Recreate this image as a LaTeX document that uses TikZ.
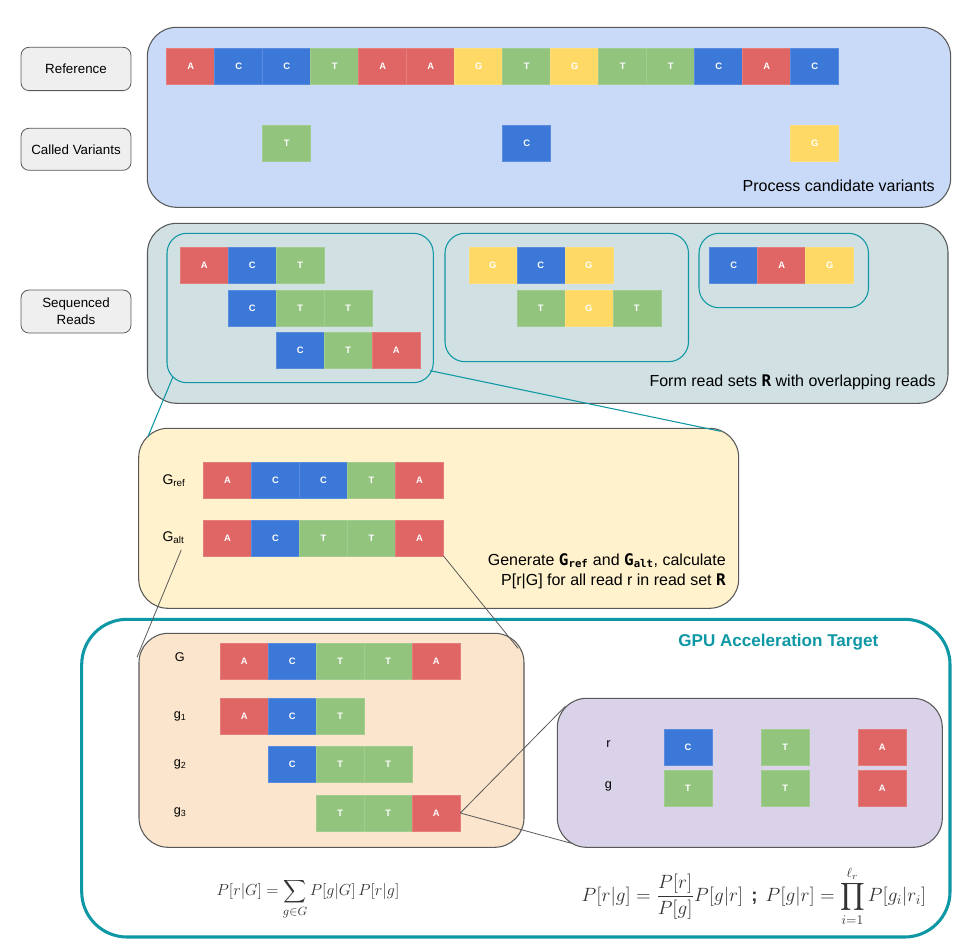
\documentclass[tikz,border=0pt]{standalone}
\usepackage{amsmath}
\usepackage{fontspec}
\setmainfont{Liberation Sans}
\newfontfamily\codefont{DejaVu Sans Mono}
\usetikzlibrary{calc}

% nucleotide colours
\definecolor{baseA}{HTML}{E06666}
\definecolor{baseC}{HTML}{3C78D8}
\definecolor{baseT}{HTML}{93C47D}
\definecolor{baseG}{HTML}{FFD966}
% panel colours
\definecolor{panelblue}{HTML}{C9DAF8}
\definecolor{panelcyan}{HTML}{D0E0E3}
\definecolor{panelyellow}{HTML}{FFF2CC}
\definecolor{panelorange}{HTML}{FCE5CD}
\definecolor{panelpurple}{HTML}{D9D2E9}
\definecolor{labelgrey}{HTML}{EFEFEF}
\definecolor{edgegrey}{HTML}{595959}
\definecolor{gputeal}{HTML}{0E97A4}

\newcommand\bmono[1]{{\codefont\bfseries #1}}

\tikzset{
  nuc/.style={draw=base#1!85!white, line width=0.4pt, fill=base#1,
    minimum width=36pt, minimum height=27pt, inner sep=0pt, outer sep=0pt,
    anchor=north west, text=white, font=\fontsize{7}{8}\selectfont\bfseries},
  panel/.style={draw=edgegrey, line width=0.8pt, rounded corners=22pt,
    inner sep=0pt, outer sep=0pt, anchor=north west},
  readset/.style={draw=gputeal, line width=0.8pt, rounded corners=15pt,
    inner sep=0pt, outer sep=0pt, anchor=north west},
  gpubox/.style={draw=gputeal, line width=2.3pt, rounded corners=34pt,
    inner sep=0pt, outer sep=0pt, anchor=north west},
  tag/.style={draw=edgegrey, fill=labelgrey, line width=0.6pt, rounded corners=6pt,
    inner sep=0pt, outer sep=0pt, anchor=north west, align=center,
    font=\fontsize{10}{12.5}\selectfont},
  caption/.style={anchor=east, inner sep=0pt, align=right, font=\fontsize{12}{15}\selectfont},
  rowlabel/.style={anchor=west, inner sep=0pt, font=\fontsize{9.5}{11}\selectfont},
  formula/.style={anchor=base, inner sep=0pt, text=black!80},
  tealwire/.style={draw=gputeal, line width=0.8pt},
  greywire/.style={draw=edgegrey, line width=0.6pt},
}

% box from pixel corner (x1,y1) to (x2,y2)
\newcommand\pbox[6]{%
  \node[#6, minimum width={(#4-#2)*0.75pt}, minimum height={(#5-#3)*0.75pt}] (#1) at (#2,#3) {};}
% a row of nucleotide cells starting at (x,y)
\newcommand\seqrow[4]{%
  \foreach \b [count=\i] in {#4} {\node[nuc=\b] (#1-\i) at ({#2+(\i-1)*48},#3) {\b};}}

\begin{document}
\begin{tikzpicture}[x=0.75pt,y=-0.75pt]
\useasboundingbox (0,0) rectangle (959,944);

% ---- left-hand row labels
\node[tag, minimum width=82.5pt, minimum height=32.5pt] (tagref) at (21,47.3) {Reference};
\node[tag, minimum width=82.5pt, minimum height=31.5pt] (tagvar) at (21,128.3) {Called Variants};
\node[tag, minimum width=82.5pt, minimum height=32.3pt] (tagreads) at (21,290) {Sequenced\\Reads};

% ---- candidate variants panel
\pbox{bluepanel}{147.3}{27.3}{950.7}{207.3}{panel, fill=panelblue}
\seqrow{ref}{166.7}{48}{A,C,C,T,A,A,G,T,G,T,T,C,A,C}
\node[nuc=T] (var-1) at (262.7,125) {T};
\node[nuc=C] (var-2) at (502.7,125) {C};
\node[nuc=G] (var-3) at (790.7,125) {G};
\node[caption] (capvar) at (935,185.7) {Process candidate variants};

% ---- read sets panel
\pbox{cyanpanel}{147.5}{223.3}{948}{403.3}{panel, fill=panelcyan}
\pbox{set1}{167}{233.3}{433.3}{382.7}{readset}
\pbox{set2}{445}{233.3}{688.5}{361.7}{readset}
\pbox{set3}{699}{233.3}{868.5}{307.7}{readset}
\seqrow{s1a}{180.3}{247.3}{A,C,T}
\seqrow{s1b}{228.3}{290}{C,T,T}
\seqrow{s1c}{276.3}{332.7}{C,T,A}
\seqrow{s2a}{468.8}{247.3}{G,C,G}
\seqrow{s2b}{516.8}{290}{T,G,T}
\seqrow{s3a}{709.7}{247.3}{C,A,G}
\node[caption] (capsets) at (936,382.3) {Form read sets \bmono{R} with overlapping reads};

% ---- haplotype panel
\pbox{yellowpanel}{138.7}{428.3}{738.7}{608.3}{panel, fill=panelyellow}
\seqrow{gref}{203.5}{462.3}{A,C,C,T,A}
\seqrow{galt}{203.5}{520}{A,C,T,T,A}
\node[rowlabel, font=\fontsize{10.5}{12}\selectfont] (labgref) at (162.3,480.5) {G\textsubscript{ref}};
\node[rowlabel, font=\fontsize{10.5}{12}\selectfont] (labgalt) at (162.3,537.5) {G\textsubscript{alt}};
\node[caption] (capgen) at (726,571) {Generate \bmono{G\textsubscript{ref}} and \bmono{G\textsubscript{alt}}, calculate\\P[r|G] for all read r in read set \bmono{R}};

% ---- GPU acceleration region
\pbox{gpuregion}{81.7}{619.3}{950}{937}{gpubox}
\node[font=\fontsize{12.8}{15}\selectfont\bfseries, text=gputeal, inner sep=0pt] (gputitle) at (778.3,641.7) {GPU Acceleration Target};

\pbox{orangepanel}{139}{633.3}{524}{847.3}{panel, fill=panelorange}
\seqrow{hapG}{220.3}{643}{A,C,T,T,A}
\seqrow{hg1}{220.3}{698.3}{A,C,T}
\seqrow{hg2}{268.3}{746.7}{C,T,T}
\seqrow{hg3}{316.3}{795}{T,T,A}
\node[rowlabel] (labG) at (174.5,657.3) {G};
\node[rowlabel] (labg1) at (173.5,716.5) {g\textsubscript{1}};
\node[rowlabel] (labg2) at (173.5,764.5) {g\textsubscript{2}};
\node[rowlabel] (labg3) at (173.5,812.5) {g\textsubscript{3}};

\pbox{purplepanel}{557.3}{698.3}{942.3}{847.3}{panel, fill=panelpurple}
\node[nuc=C] (pr-1) at (664,729.3) {C};
\node[nuc=T] (pr-2) at (761.3,729.3) {T};
\node[nuc=A] (pr-3) at (858.3,729.3) {A};
\node[nuc=T] (pg-1) at (664,770.7) {T};
\node[nuc=T] (pg-2) at (761.3,770.7) {T};
\node[nuc=A] (pg-3) at (858.3,770.7) {A};
\node[font=\fontsize{9.5}{11}\selectfont, inner sep=0pt] (labr) at (608.5,744) {r};
\node[font=\fontsize{9.5}{11}\selectfont, inner sep=0pt] (labg) at (608.5,786) {g};

% ---- likelihood formulas
\node[formula, font=\fontsize{12.5}{15}\selectfont] (eqsum) at (308,895.5)
  {$\displaystyle P[r|G] = \sum_{g\in G} P[g|G]\,P[r|g]$};
\node[formula, font=\fontsize{14}{17}\selectfont] (eqprod) at (754,901.5)
  {$\displaystyle P[r|g] = \frac{P[r]}{P[g]}P[g|r]\hspace{6pt}\textbf{;}\hspace{6pt}P[g|r] = \prod_{i=1}^{\ell_r} P[g_i|r_i]$};

% ---- zoom connectors between stages
\draw[tealwire] ($(set1.south west)+(6,-6)$) -- ($(yellowpanel.north west)+(9,9)$);
\draw[tealwire] ($(set1.south east)+(-3,-12)$) -- ($(yellowpanel.north east)+(-18,3)$);
\draw[greywire] ($(labgalt.south west)+(19,6)$) -- ($(orangepanel.north west)+(-2,24)$);
\draw[greywire] (galt-5.south east) -- ($(orangepanel.north east)+(-6,15)$);
\draw[greywire] (hg3-3.east) -- ($(purplepanel.north west)+(8,8)$);
\draw[greywire] (hg3-3.east) -- ($(purplepanel.south west)+(14,-4)$);
\end{tikzpicture}
\end{document}
